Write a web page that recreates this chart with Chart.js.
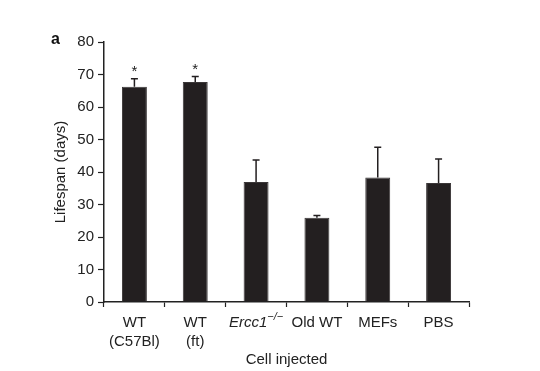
<!DOCTYPE html>
<html>
<head>
<meta charset="utf-8">
<script src="https://cdn.jsdelivr.net/npm/chart.js@4.4.1/dist/chart.umd.min.js"></script>
<style>
  html, body { margin: 0; padding: 0; background: #fff; }
  #wrap { width: 540px; height: 371px; position: relative; }
</style>
</head>
<body>
<div id="wrap"><canvas id="lifespan"></canvas></div>
<script>
// data
const cellTypes = [['WT', '(C57Bl)'], ['WT', '(ft)'], ['Ercc1'], ['Old WT'], ['MEFs'], ['PBS']];
const lifespanMean = [66.2, 67.7, 36.9, 25.9, 38.3, 36.6];
const lifespanErr = [2.5, 1.7, 6.8, 0.7, 9.3, 7.4];
const significant = [true, true, false, false, false, false];
const yTicks = [0, 10, 20, 30, 40, 50, 60, 70, 80];

Chart.defaults.font.family = "'Liberation Sans', Arial, sans-serif";
Chart.defaults.color = '#222';

const FONT = "15px 'Liberation Sans', Arial, sans-serif";

// error bars (upper only) + asterisks
const errorBars = {
    id: 'errorBars',
    afterDatasetsDraw(chart) {
        const { ctx } = chart;
        const meta = chart.getDatasetMeta(0);
        const y = chart.scales.y;
        ctx.save();
        ctx.strokeStyle = '#231f20';
        ctx.lineWidth = 1.5;
        meta.data.forEach((bar, i) => {
            const top = y.getPixelForValue(lifespanMean[i] + lifespanErr[i]);
            const base = y.getPixelForValue(lifespanMean[i]);
            ctx.beginPath();
            ctx.moveTo(bar.x, base);
            ctx.lineTo(bar.x, top);
            ctx.moveTo(bar.x - 3.5, top);
            ctx.lineTo(bar.x + 3.5, top);
            ctx.stroke();
            if (significant[i]) {
                ctx.fillStyle = '#222';
                ctx.font = FONT;
                ctx.textAlign = 'center';
                ctx.textBaseline = 'middle';
                ctx.fillText('*', bar.x, top - 7);
            }
        });
        ctx.restore();
    }
};

// category labels (italic gene name with superscript), axis titles, panel letter
const labels = {
    id: 'labels',
    afterDraw(chart) {
        const { ctx } = chart;
        const x = chart.scales.x;
        ctx.save();
        ctx.fillStyle = '#222';
        ctx.textBaseline = 'middle';
        ctx.textAlign = 'center';
        cellTypes.forEach((lines, i) => {
            const cx = x.getPixelForValue(i);
            if (lines[0] === 'Ercc1') {
                ctx.font = "italic " + FONT;
                const w1 = ctx.measureText('Ercc1').width;
                ctx.font = "italic 11px 'Liberation Sans', Arial, sans-serif";
                const w2 = ctx.measureText('\u2212/\u2212').width;
                const x0 = cx - (w1 + w2) / 2;
                ctx.textAlign = 'left';
                ctx.font = "italic " + FONT;
                ctx.fillText('Ercc1', x0, 323);
                ctx.font = "italic 11px 'Liberation Sans', Arial, sans-serif";
                ctx.fillText('\u2212/\u2212', x0 + w1, 317);
                ctx.textAlign = 'center';
                return;
            }
            ctx.font = FONT;
            lines.forEach((t, j) => ctx.fillText(t, cx, 323 + j * 19));
        });
        ctx.font = FONT;
        ctx.fillText('Cell injected', (x.left + x.right) / 2, 360);

        ctx.translate(61, (chart.chartArea.top + chart.chartArea.bottom) / 2);
        ctx.rotate(-Math.PI / 2);
        ctx.fillText('Lifespan (days)', 0, 0);
        ctx.restore();

        ctx.save();
        ctx.font = "bold 16px 'Liberation Sans', Arial, sans-serif";
        ctx.fillStyle = '#111';
        ctx.textBaseline = 'middle';
        ctx.fillText('a', 51, 40);
        ctx.restore();
    }
};

new Chart(document.getElementById('lifespan'), {
    type: 'bar',
    data: {
        labels: cellTypes.map(l => l.join(' ')),
        datasets: [{
            data: lifespanMean,
            backgroundColor: '#231f20',
            borderColor: '#3a3637',
            borderWidth: 1,
            barPercentage: 0.41,
            categoryPercentage: 1
        }]
    },
    options: {
        responsive: true,
        maintainAspectRatio: false,
        animation: false,
        layout: { padding: { top: 42, right: 71, left: 0, bottom: 0 } },
        plugins: {
            legend: { display: false },
            tooltip: { enabled: false }
        },
        scales: {
            x: {
                offset: true,
                grid: { offset: true, drawOnChartArea: false, color: '#222', tickLength: 5, tickWidth: 1.2 },
                border: { color: '#222', width: 1.5 },
                ticks: { display: false },
                afterFit(s) { s.height = 69; }
            },
            y: {
                min: 0,
                max: 80,
                afterBuildTicks(s) { s.ticks = yTicks.map(v => ({ value: v })); },
                grid: { drawOnChartArea: false, color: '#222', tickLength: 6, tickWidth: 1.2 },
                border: { color: '#222', width: 1.5 },
                ticks: { font: { size: 15 }, color: '#222', padding: 4 },
                afterFit(s) { s.width = 104; }
            }
        }
    },
    plugins: [errorBars, labels]
});
</script>
</body>
</html>
